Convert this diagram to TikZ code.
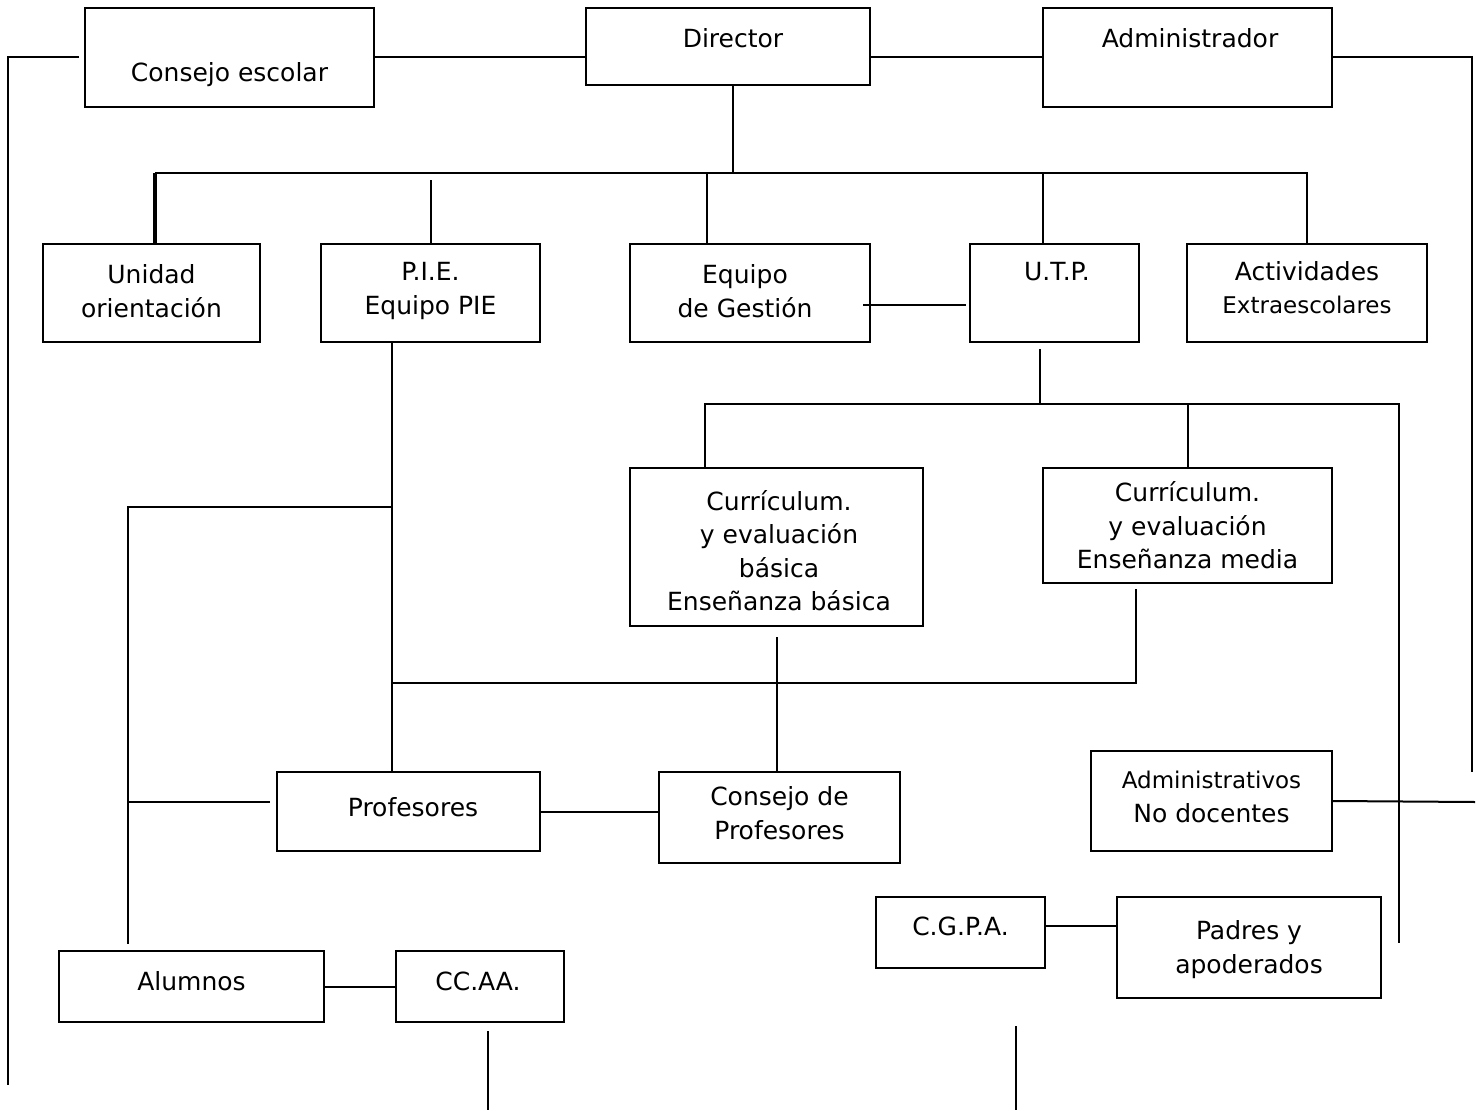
\documentclass[tikz,border=0pt]{standalone}
\usepackage{fontspec}
\setmainfont{DejaVu Sans}
\usetikzlibrary{positioning, calc}

\begin{document}
\begin{tikzpicture}[x=1pt, y=-1pt,
    box/.style={draw, line width=2pt, inner sep=0pt},
    lbl/.style={align=center, font=\fontsize{25}{33.5}\selectfont},
    link/.style={line width=2pt}]
  \path[use as bounding box, fill=white] (0,0) rectangle (1478,1113);

  % top row
  \node[box, minimum width=289, minimum height=99, label={[lbl, yshift=-17pt]center:Consejo escolar}] (cesc) at (229.5,57.5) {};
  \node[box, minimum width=284, minimum height=77, label={[lbl, xshift=5pt, yshift=8.5pt]center:Director}] (dir) at (728,46.5) {};
  \node[box, minimum width=289, minimum height=99, label={[lbl, xshift=2.5pt, yshift=19.5pt]center:Administrador}] (adm) at (1187.5,57.5) {};

  % second row
  \node[box, minimum width=217, minimum height=98, label={[lbl, yshift=2pt]center:{Unidad\\orientación}}] (uni) at (151.5,293) {};
  \node[box, minimum width=219, minimum height=98, label={[lbl, yshift=2pt]center:{P.I.E.\\Equipo PIE}}] (pie) at (430.5,293) {};
  \node[box, minimum width=240, minimum height=98, label={[lbl, xshift=-5pt, yshift=2pt]center:{Equipo\\de Gestión}}] (eqg) at (750,293) {};
  \node[box, minimum width=169, minimum height=98, label={[lbl, xshift=2.5pt, yshift=21pt]center:U.T.P.}] (utp) at (1054.5,293) {};
  \node[box, minimum width=240, minimum height=98, label={[lbl, yshift=5.5pt]center:{Actividades\\{\fontsize{23}{31}\selectfont Extraescolares}}}] (act) at (1307,293) {};

  % curriculum
  \node[box, minimum width=293, minimum height=158, label={[lbl, xshift=2.5pt, yshift=-3.5pt]center:{Currículum.\\y evaluación\\básica\\Enseñanza básica}}] (cb) at (776.5,547) {};
  \node[box, minimum width=289, minimum height=115, label={[lbl]center:{Currículum.\\y evaluación\\Enseñanza media}}] (cm) at (1187.5,525.5) {};

  % lower part
  \node[box, minimum width=263, minimum height=79, label={[lbl, xshift=4.5pt, yshift=4.5pt]center:Profesores}] (prof) at (408.5,811.5) {};
  \node[box, minimum width=241, minimum height=91, label={[lbl, yshift=4.5pt]center:{Consejo de\\Profesores}}] (cprof) at (779.5,817.5) {};
  \node[box, minimum width=241, minimum height=100, label={[lbl, yshift=4pt]center:{{\fontsize{23}{31}\selectfont Administrativos}\\No docentes}}] (admd) at (1211.5,801) {};
  \node[box, minimum width=169, minimum height=71, label={[lbl, yshift=6.5pt]center:C.G.P.A.}] (cgpa) at (960.5,932.5) {};
  \node[box, minimum width=264, minimum height=101, label={[lbl, yshift=-2pt]center:{Padres y\\apoderados}}] (pad) at (1249,947.5) {};
  \node[box, minimum width=265, minimum height=71, label={[lbl, yshift=5.5pt]center:Alumnos}] (alu) at (191.5,986.5) {};
  \node[box, minimum width=168, minimum height=71, label={[lbl, xshift=-2pt, yshift=5.5pt]center:CC.AA.}] (ccaa) at (480,986.5) {};

  % free ends and junctions
  \coordinate (lbot) at (8,1085);
  \coordinate (rbot) at (1472,772);
  \coordinate (busL) at (155,173);
  \coordinate (busR) at (1308,173);
  \coordinate (uL) at (705,404);
  \coordinate (uR) at (1399,404);
  \coordinate (rdown) at (1399,943);
  \coordinate (pv) at (392,683);
  \coordinate (lv) at (128,507);
  \coordinate (rline) at (1475,802);
  \coordinate (ccbot) at (488,1110);
  \coordinate (frTop) at (1016,1026);
  \coordinate (frBot) at (1016,1110);
  \coordinate (eqgUp) at ($(eqg.north)+(-43,0)$);
  \coordinate (utpUp) at ($(utp.north)+(-11.5,0)$);
  \coordinate (utpDn) at ($(utp.south)+(-14.5,6)$);

  % connectors
  \draw[link] ($(cesc.west)+(-5,0)$) -| (lbot);
  \draw[link] (cesc.east) -- (cesc.east -| dir.west);
  \draw[link] (adm.west -| dir.east) -- (adm.west);
  \draw[link] (adm.east) -| (rbot);
  \draw[link] ($(dir.south)+(5,0)$) -- ($(dir.south |- busL)+(5,0)$);
  \draw[link] (busL) -- (busR);
  \draw[line width=4.5pt] (busL) -- (busL |- uni.north);
  \draw[link] (pie.north) -- ++(0,-63);
  \draw[link] (eqgUp) -- (eqgUp |- busL);
  \draw[link] (utpUp) -- (utpUp |- busL);
  \draw[link] (act.north) -- (act.north |- busR);
  \draw[link] ($(eqg.east)+(-8,12)$) -- ($(utp.west)+(-3,12)$);
  \draw[link] (utpDn) -- (utpDn |- uL);
  \draw[link] (uL |- cb.north) -- (uL) -- (uR) -- (rdown);
  \draw[link] (cm.north) -- (cm.north |- uR);
  \draw[link] (pv |- pie.south) -- (pv |- prof.north);
  \draw[link] (lv -| pv) -- (lv) -- ($(lv |- alu.north)+(0,-6)$);
  \draw[link] ($(prof.west)+(-6,-9.5)$) -- ($(prof.west -| lv)+(0,-9.5)$);
  \draw[link] ($(cm.south)+(-51.5,5)$) |- (pv);
  \draw[link] ($(cb.south)+(0,10)$) -- (cb.south |- cprof.north);
  \draw[link] (prof.east) -- (prof.east -| cprof.west);
  \draw[link] (admd.east) -- (rline);
  \draw[link] ($(cgpa.east)+(0,-6.5)$) -- ($(cgpa.east -| pad.west)+(0,-6.5)$);
  \draw[link] (alu.east) -- (ccaa.west);
  \draw[link] ($(ccbot |- ccaa.south)+(0,8)$) -- (ccbot);
  \draw[link] (frTop) -- (frBot);
\end{tikzpicture}
\end{document}
